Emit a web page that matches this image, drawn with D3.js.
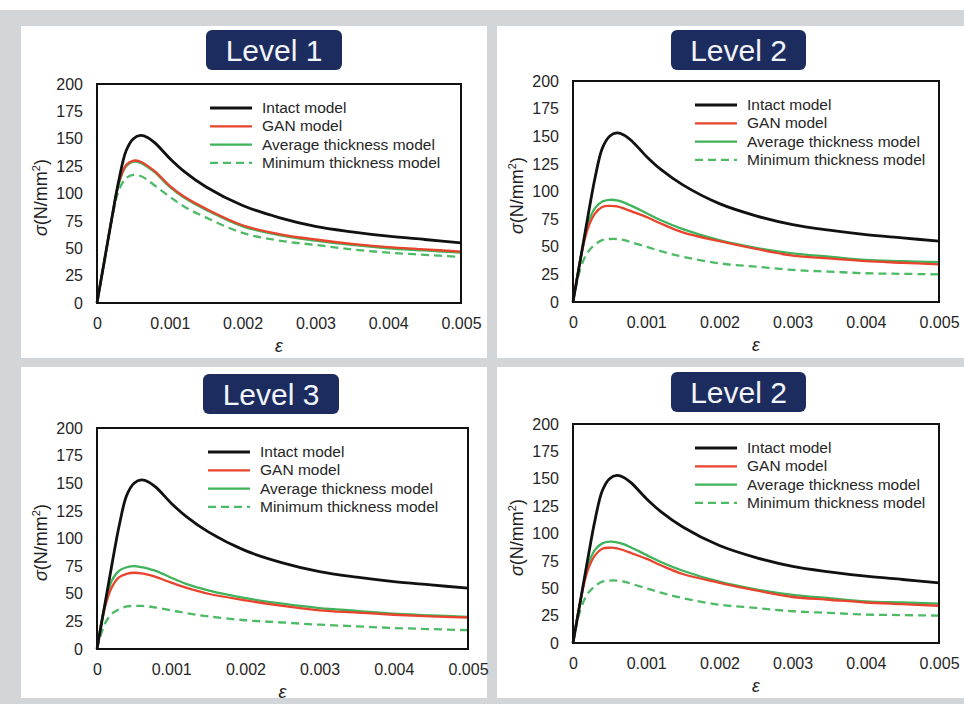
<!DOCTYPE html>
<html>
<head>
<meta charset="utf-8">
<script src="https://cdn.jsdelivr.net/npm/d3@7"></script>
<style>
  html, body { margin: 0; padding: 0; background: #fff; }
  svg { display: block; }
  .tick text { font-family: "Liberation Sans", Arial, sans-serif; font-size: 16px; fill: #262626; }
  .legend text { font-family: "Liberation Sans", Arial, sans-serif; font-size: 15.5px; fill: #262626; }
</style>
</head>
<body>
<script>
// strain values shared by every curve
var strain = [0, 0.0001, 0.0002, 0.0003, 0.0004, 0.0005, 0.0006, 0.0007, 0.0008, 0.001,
              0.0012, 0.0015, 0.002, 0.0025, 0.003, 0.0035, 0.004, 0.0045, 0.005];

var intact = [0, 38, 76, 112, 139, 150, 153, 151, 146, 132, 120, 106, 89, 78, 70, 65, 61, 58, 55];

var lv1Gan = [0, 38, 76, 110, 126, 130, 129, 125, 120, 107, 97, 86, 71, 63, 58, 54, 51, 49, 47];
var lv1Avg = [0, 38, 76, 109, 125, 129, 128, 124, 119, 106, 96, 85, 70, 62, 57, 53, 50, 48, 46];
var lv1Min = [0, 38, 75, 103, 114, 117, 116, 112, 107, 97, 88, 78, 64, 57, 53, 49, 46, 44, 42];

var lv2Gan = [0, 38, 66, 80, 86, 87, 86.5, 84.5, 82, 77, 71, 63, 55, 48, 42, 39.5, 37, 35.5, 34];
var lv2Avg = [0, 38, 70, 85, 91, 92.5, 92, 90, 87, 80.5, 74, 66, 56, 49, 44, 41, 38, 37, 36];
var lv2Min = [0, 30, 45, 52, 56, 57, 57, 56, 54, 50, 46, 41, 35, 32, 29, 27.5, 26, 25.5, 25];

var lv3Gan = [0, 36, 56, 65, 68, 69, 68.5, 67, 65, 60, 55.5, 50, 44, 39, 35, 33, 31, 29.5, 28.5];
var lv3Avg = [0, 38, 62, 71, 74, 75, 74, 72.5, 70.5, 64.5, 59, 53, 46, 41, 37, 34.5, 32, 30.5, 29];
var lv3Min = [0, 22, 32, 36, 38.5, 39, 39, 38.5, 37.5, 35, 32.5, 29.5, 26, 24, 22, 20.5, 19, 18, 17];

var seriesNames = ["Intact model", "GAN model", "Average thickness model", "Minimum thickness model"];
var panelTitles = ["Level 1", "Level 2", "Level 3", "Level 2"];
var panelData = [
    [intact, lv1Gan, lv1Avg, lv1Min],
    [intact, lv2Gan, lv2Avg, lv2Min],
    [intact, lv3Gan, lv3Avg, lv3Min],
    [intact, lv2Gan, lv2Avg, lv2Min]
];
var xTicks = [0, 0.001, 0.002, 0.003, 0.004, 0.005];
var yTicks = [0, 25, 50, 75, 100, 125, 150, 175, 200];

// layout of the four boxes (pixels)
var layout = [
    {bx:21,  by:26,  bw:466, bh:332, px:97,  py:84,  pw:364, ph:219, tx:206, ty:30,  tw:136, lx:113},
    {bx:497, by:26,  bw:467, bh:332, px:573, py:81,  pw:366, ph:221, tx:671, ty:30,  tw:135, lx:122},
    {bx:21,  by:367, bw:466, bh:331, px:97,  py:428, pw:371, ph:221, tx:203, ty:374, tw:136, lx:111},
    {bx:497, by:367, bw:467, bh:331, px:573, py:424, pw:366, ph:219, tx:671, ty:372, tw:135, lx:122}
];

var styles = [
    {color:"#111111", width:2.8, dash:null},
    {color:"#e8432d", width:2.3, dash:null},
    {color:"#3fb35a", width:2.3, dash:null},
    {color:"#4dba66", width:2.3, dash:"8,5"}
];
// draw order: min, avg, gan, intact (red over green)
var drawOrder = [3, 2, 1, 0];

var width = 964, height = 704;

var svg = d3.select("body").append("svg")
    .attr("width", width)
    .attr("height", height);

svg.append("rect").attr("x", 0).attr("y", 0).attr("width", width).attr("height", height).attr("fill", "#d2d6d9");
svg.append("rect").attr("x", 0).attr("y", 0).attr("width", width).attr("height", 10).attr("fill", "#ffffff");

layout.forEach(function(L, i){
    var g = svg.append("g");

    g.append("rect")
        .attr("x", L.bx).attr("y", L.by)
        .attr("width", L.bw).attr("height", L.bh)
        .attr("fill", "#ffffff");

    // title badge
    g.append("rect")
        .attr("x", L.tx).attr("y", L.ty)
        .attr("width", L.tw).attr("height", 40)
        .attr("rx", 6).attr("ry", 6)
        .attr("fill", "#1d2c5e");
    g.append("text")
        .attr("x", L.tx + L.tw/2).attr("y", L.ty + 31)
        .attr("text-anchor", "middle")
        .attr("font-family", "'Liberation Sans', Arial, sans-serif")
        .attr("font-size", 30)
        .attr("fill", "#f2f4fa")
        .text(panelTitles[i]);

    var x = d3.scaleLinear().domain([0, 0.005]).range([L.px, L.px + L.pw]);
    var y = d3.scaleLinear().domain([0, 200]).range([L.py + L.ph, L.py]);

    var yAxis = g.append("g")
        .attr("transform", "translate(" + L.px + ",0)")
        .call(d3.axisLeft(y).tickValues(yTicks).tickSize(0).tickPadding(14));
    yAxis.select(".domain").remove();

    var xAxis = g.append("g")
        .attr("transform", "translate(0," + (L.py + L.ph) + ")")
        .call(d3.axisBottom(x).tickValues(xTicks).tickSize(0).tickPadding(15)
              .tickFormat(function(d){ return d === 0 ? "0" : d3.format(".3f")(d); }));
    xAxis.select(".domain").remove();

    var line = d3.line()
        .x(function(d){ return x(d[0]); })
        .y(function(d){ return y(d[1]); })
        .curve(d3.curveCatmullRom.alpha(0.5));

    drawOrder.forEach(function(k){
        var s = styles[k];
        var pts = strain.map(function(e, j){ return [e, panelData[i][k][j]]; });
        g.append("path")
            .attr("d", line(pts))
            .attr("fill", "none")
            .attr("stroke", s.color)
            .attr("stroke-width", s.width)
            .attr("stroke-dasharray", s.dash)
            .attr("stroke-linejoin", "round");
    });

    // frame
    g.append("rect")
        .attr("x", L.px).attr("y", L.py)
        .attr("width", L.pw).attr("height", L.ph)
        .attr("fill", "none")
        .attr("stroke", "#111")
        .attr("stroke-width", 2);

    // legend
    var lg = g.append("g").attr("class", "legend")
        .attr("transform", "translate(" + (L.px + L.lx) + "," + (L.py + 24) + ")");
    seriesNames.forEach(function(name, k){
        var s = styles[k];
        var yy = k * 18.3;
        lg.append("line")
            .attr("x1", 0).attr("x2", 42)
            .attr("y1", yy).attr("y2", yy)
            .attr("stroke", s.color)
            .attr("stroke-width", s.width)
            .attr("stroke-dasharray", s.dash);
        lg.append("text")
            .attr("x", 52).attr("y", yy + 5)
            .text(name);
    });

    // axis titles
    var yl = g.append("text")
        .attr("transform", "translate(" + (L.px - 50) + "," + (L.py + L.ph/2 + 4) + ") rotate(-90)")
        .attr("text-anchor", "middle")
        .attr("font-family", "'Liberation Sans', Arial, sans-serif")
        .attr("font-size", 18)
        .attr("fill", "#222");
    yl.append("tspan").attr("font-style", "italic").text("σ");
    yl.append("tspan").text("(N/mm");
    yl.append("tspan").attr("font-size", 11).attr("dy", -7).text("2");
    yl.append("tspan").attr("dy", 7).text(")");

    g.append("text")
        .attr("x", L.px + L.pw/2).attr("y", L.py + L.ph + 49)
        .attr("text-anchor", "middle")
        .attr("font-family", "'Liberation Sans', Arial, sans-serif")
        .attr("font-style", "italic")
        .attr("font-size", 18)
        .attr("fill", "#222")
        .text("ε");
});
</script>
</body>
</html>
